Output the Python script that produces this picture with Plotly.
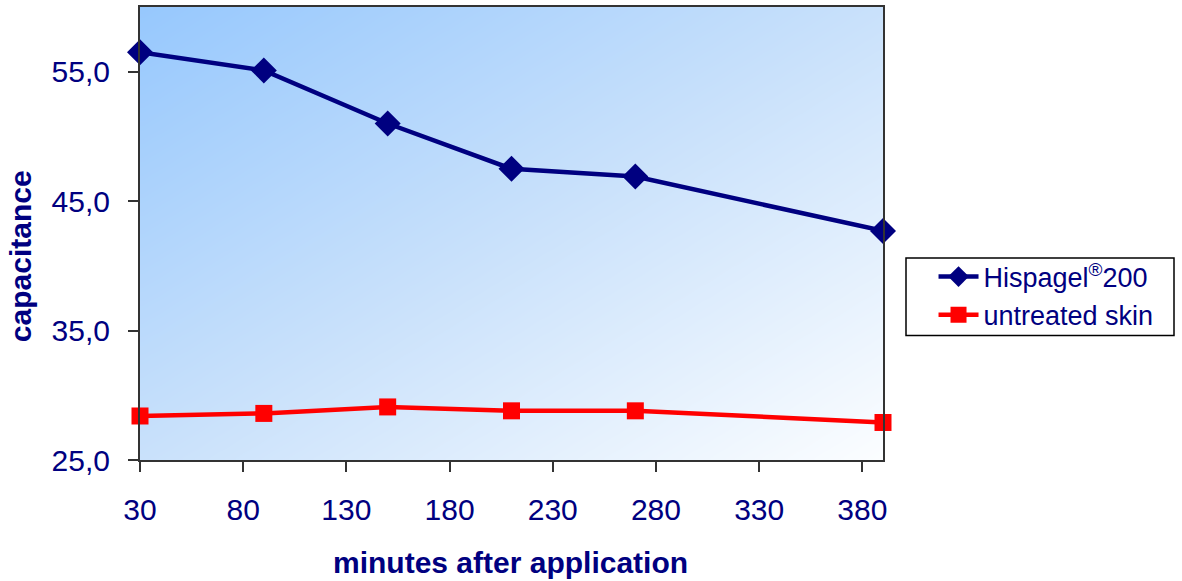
import numpy as np
import plotly.graph_objects as go

minutes = [30, 90, 150, 210, 270, 390]
hispagel = [56.5, 55.1, 51.0, 47.5, 46.9, 42.7]
untreated = [28.4, 28.6, 29.1, 28.8, 28.8, 27.9]
x_ticks = [30, 80, 130, 180, 230, 280, 330, 380]
y_ticks = [25, 35, 45, 55]

X_RANGE = [30, 390]
Y_RANGE = [25, 60]

NAVY = "#000080"
RED = "#FF0000"
FONT = "Liberation Sans, Arial, sans-serif"

# background gradient (styling only)
N = 120
xe = np.linspace(X_RANGE[0], X_RANGE[1], N + 1)
ye = np.linspace(Y_RANGE[0], Y_RANGE[1], N + 1)
u = np.linspace(0, 1, N)
v = np.linspace(1, 0, N)  # 1 at bottom, 0 at top
U, V = np.meshgrid(u, v)
Z = (U + V) / 2.0

fig = go.Figure()
fig.add_trace(go.Heatmap(
    x=xe, y=ye, z=Z, zmin=0, zmax=1, zsmooth="best",
    colorscale=[[0, "#97C8FD"], [0.5, "#C9E1FB"], [1, "#FBFDFF"]],
    showscale=False, hoverinfo="skip", showlegend=False,
))
fig.add_trace(go.Scatter(
    x=minutes, y=hispagel, mode="lines+markers",
    name="Hispagel<sup>®</sup>200",
    line=dict(color=NAVY, width=4.5),
    marker=dict(symbol="diamond", size=20, color=NAVY),
    cliponaxis=False,
))
fig.add_trace(go.Scatter(
    x=minutes, y=untreated, mode="lines+markers",
    name="untreated skin",
    line=dict(color=RED, width=4.5),
    marker=dict(symbol="square", size=17, color=RED),
    cliponaxis=False,
))

fig.update_layout(
    width=1182, height=581,
    margin=dict(l=140, r=299, t=5, b=121),
    paper_bgcolor="white", plot_bgcolor="white",
    separators=", ",
    font=dict(family=FONT, color=NAVY, size=27),
    showlegend=True,
    legend=dict(
        x=1.068, y=0.362, xanchor="left", yanchor="middle",
        bgcolor="rgba(0,0,0,0)", borderwidth=0,
        font=dict(size=27, color=NAVY, family=FONT),
        itemwidth=40, tracegroupgap=0,
    ),
    shapes=[
        dict(type="rect", xref="paper", yref="paper",
             x0=(906 - 140) / 743, x1=(1174 - 140) / 743,
             y0=(460 - 335) / 455, y1=(460 - 257) / 455,
             line=dict(color="black", width=1.5), fillcolor="white",
             layer="below"),
    ],
    xaxis=dict(
        range=X_RANGE, tickvals=x_ticks, showgrid=False, zeroline=False,
        showline=True, linecolor="#333333", linewidth=2, mirror=True,
        ticks="outside", ticklen=10, tickwidth=2, tickcolor="#333333",
        tickfont=dict(size=30, color=NAVY, family=FONT),
        ticklabelstandoff=12,
    ),
    yaxis=dict(
        range=Y_RANGE, tickvals=y_ticks, tickformat=".1f", showgrid=False,
        zeroline=False, showline=True, linecolor="#333333", linewidth=2,
        mirror=True, ticks="outside", ticklen=10, tickwidth=2,
        tickcolor="#333333",
        tickfont=dict(size=30, color=NAVY, family=FONT),
        ticklabelstandoff=12,
    ),
    annotations=[
        dict(text="<b>capacitance</b>", xref="paper", yref="paper",
             x=-0.1615, y=0.45, textangle=-90, showarrow=False,
             xanchor="center", yanchor="middle",
             font=dict(size=30, color=NAVY, family=FONT)),
        dict(text="<b>minutes after application</b>", xref="paper", yref="paper",
             x=0.498, y=-0.226, showarrow=False, xanchor="center",
             yanchor="middle", font=dict(size=30, color=NAVY, family=FONT)),
    ],
)

fig.write_html("out.html", config={"displayModeBar": False},
               post_script="document.body.style.margin='0';")
